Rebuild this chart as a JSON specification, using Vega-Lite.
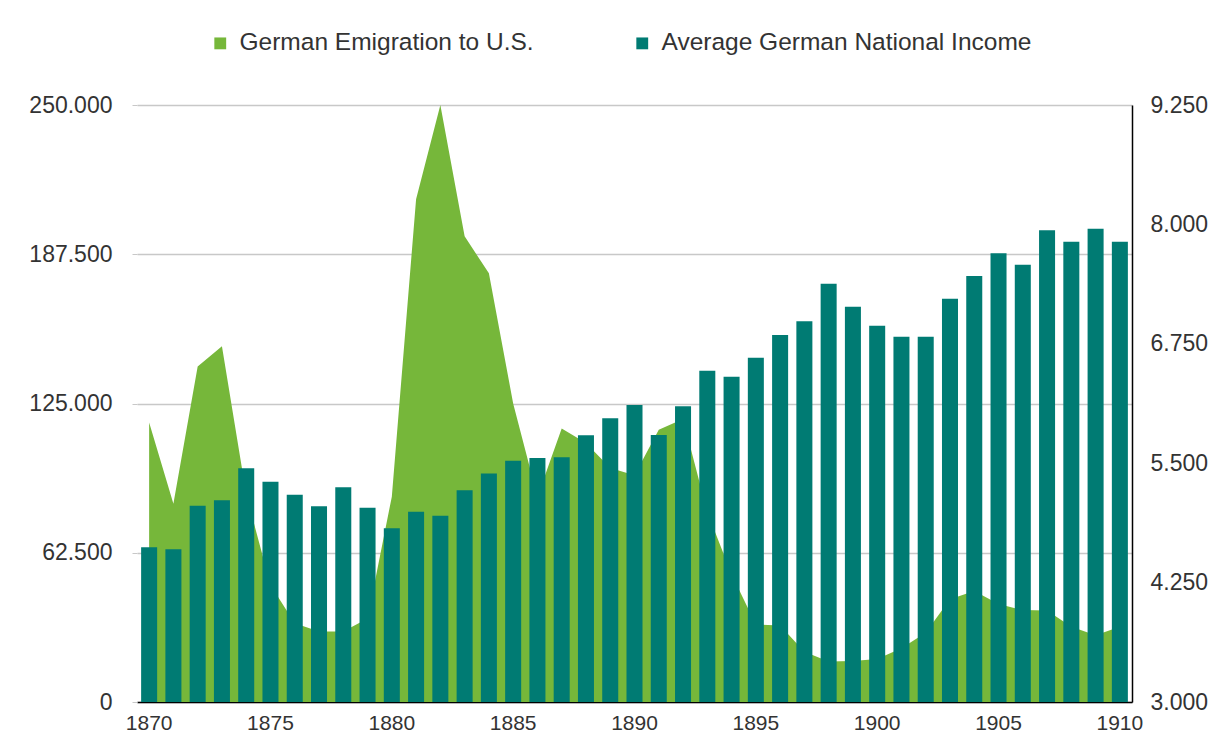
{
  "$schema": "https://vega.github.io/schema/vega-lite/v6.json",
  "width": 995,
  "height": 597,
  "autosize": {"type": "none"},
  "padding": {"left": 137, "top": 105, "right": 79, "bottom": 47},
  "background": "white",
  "config": {
    "view": {"stroke": null},
    "font": "Liberation Sans"
  },
  "data": {
    "values": [
      {"year": 1870, "emig": 117000, "income": 4620},
      {"year": 1871, "emig": 83000, "income": 4600},
      {"year": 1872, "emig": 140500, "income": 5054},
      {"year": 1873, "emig": 149000, "income": 5113},
      {"year": 1874, "emig": 87000, "income": 5447},
      {"year": 1875, "emig": 49000, "income": 5306},
      {"year": 1876, "emig": 33000, "income": 5170},
      {"year": 1877, "emig": 29500, "income": 5050},
      {"year": 1878, "emig": 29500, "income": 5249},
      {"year": 1879, "emig": 35000, "income": 5034},
      {"year": 1880, "emig": 86000, "income": 4818},
      {"year": 1881, "emig": 210500, "income": 4993},
      {"year": 1882, "emig": 250000, "income": 4951},
      {"year": 1883, "emig": 195000, "income": 5216},
      {"year": 1884, "emig": 179500, "income": 5393},
      {"year": 1885, "emig": 125000, "income": 5525},
      {"year": 1886, "emig": 86000, "income": 5554},
      {"year": 1887, "emig": 114500, "income": 5562},
      {"year": 1888, "emig": 108500, "income": 5792},
      {"year": 1889, "emig": 98000, "income": 5970},
      {"year": 1890, "emig": 95000, "income": 6109},
      {"year": 1891, "emig": 114000, "income": 5795},
      {"year": 1892, "emig": 118500, "income": 6096},
      {"year": 1893, "emig": 79500, "income": 6468},
      {"year": 1894, "emig": 53500, "income": 6406},
      {"year": 1895, "emig": 32500, "income": 6604},
      {"year": 1896, "emig": 32000, "income": 6842},
      {"year": 1897, "emig": 21000, "income": 6985},
      {"year": 1898, "emig": 17000, "income": 7379},
      {"year": 1899, "emig": 17200, "income": 7138},
      {"year": 1900, "emig": 18000, "income": 6940},
      {"year": 1901, "emig": 22500, "income": 6824},
      {"year": 1902, "emig": 29000, "income": 6824},
      {"year": 1903, "emig": 43000, "income": 7222},
      {"year": 1904, "emig": 46500, "income": 7460},
      {"year": 1905, "emig": 41000, "income": 7697},
      {"year": 1906, "emig": 38500, "income": 7578},
      {"year": 1907, "emig": 38300, "income": 7938},
      {"year": 1908, "emig": 31500, "income": 7819},
      {"year": 1909, "emig": 28000, "income": 7955},
      {"year": 1910, "emig": 31500, "income": 7819}
    ]
  },
  "encoding": {
    "x": {
      "field": "year",
      "type": "ordinal",
      "scale": {"paddingInner": 0.34, "paddingOuter": 0.17},
      "axis": {
        "title": null,
        "values": [1870, 1875, 1880, 1885, 1890, 1895, 1900, 1905, 1910],
        "labelAngle": 0,
        "ticks": false,
        "domain": true,
        "domainColor": "#000000",
        "domainWidth": 1.5,
        "labelFontSize": 21,
        "labelColor": "#333333",
        "labelPadding": 10,
        "labelDx": -5,
        "labelFont": "Liberation Sans"
      }
    }
  },
  "layer": [
    {
      "mark": {"type": "area", "opacity": 1},
      "encoding": {
        "y": {
          "field": "emig",
          "type": "quantitative",
          "scale": {"domain": [0, 250000], "nice": false},
          "axis": {
            "title": null,
            "orient": "left",
            "values": [0, 62500, 125000, 187500, 250000],
            "grid": true,
            "gridColor": "#C8C8C8",
            "gridWidth": 1.5,
            "domain": false,
            "ticks": true,
            "tickSize": 5,
            "tickColor": "#C8C8C8",
            "labelFontSize": 23,
            "labelColor": "#333333",
            "labelPadding": 20,
            "labelFont": "Liberation Sans",
            "labelExpr": "replace(format(datum.value, ',.0f'), ',', '.')"
          }
        },
        "color": {
          "datum": "German Emigration to U.S.",
          "type": "nominal",
          "scale": {
            "domain": ["German Emigration to U.S.", "Average German National Income"],
            "range": ["#76B73A", "#007B73"]
          },
          "legend": {
            "title": null,
            "orient": "none",
            "legendX": 71,
            "legendY": -74,
            "direction": "horizontal",
            "columns": 2,
            "columnPadding": 96,
            "symbolType": "square",
            "symbolSize": 140,
            "symbolStrokeWidth": 0,
            "labelFontSize": 24.5,
            "labelColor": "#333333",
            "labelFont": "Liberation Sans",
            "labelOffset": 7,
            "labelLimit": 0
          }
        }
      }
    },
    {
      "mark": {"type": "bar", "clip": true},
      "encoding": {
        "y": {
          "field": "income",
          "type": "quantitative",
          "scale": {"domain": [3000, 9250], "nice": false, "zero": false},
          "axis": {
            "title": null,
            "orient": "right",
            "values": [3000, 4250, 5500, 6750, 8000, 9250],
            "grid": false,
            "domain": true,
            "domainColor": "#000000",
            "domainWidth": 1.5,
            "ticks": false,
            "labelFontSize": 23,
            "labelColor": "#333333",
            "labelPadding": 18,
            "labelFont": "Liberation Sans",
            "labelExpr": "replace(format(datum.value, ',.0f'), ',', '.')"
          }
        },
        "color": {"datum": "Average German National Income", "type": "nominal"}
      }
    }
  ],
  "resolve": {"scale": {"y": "independent"}}
}
